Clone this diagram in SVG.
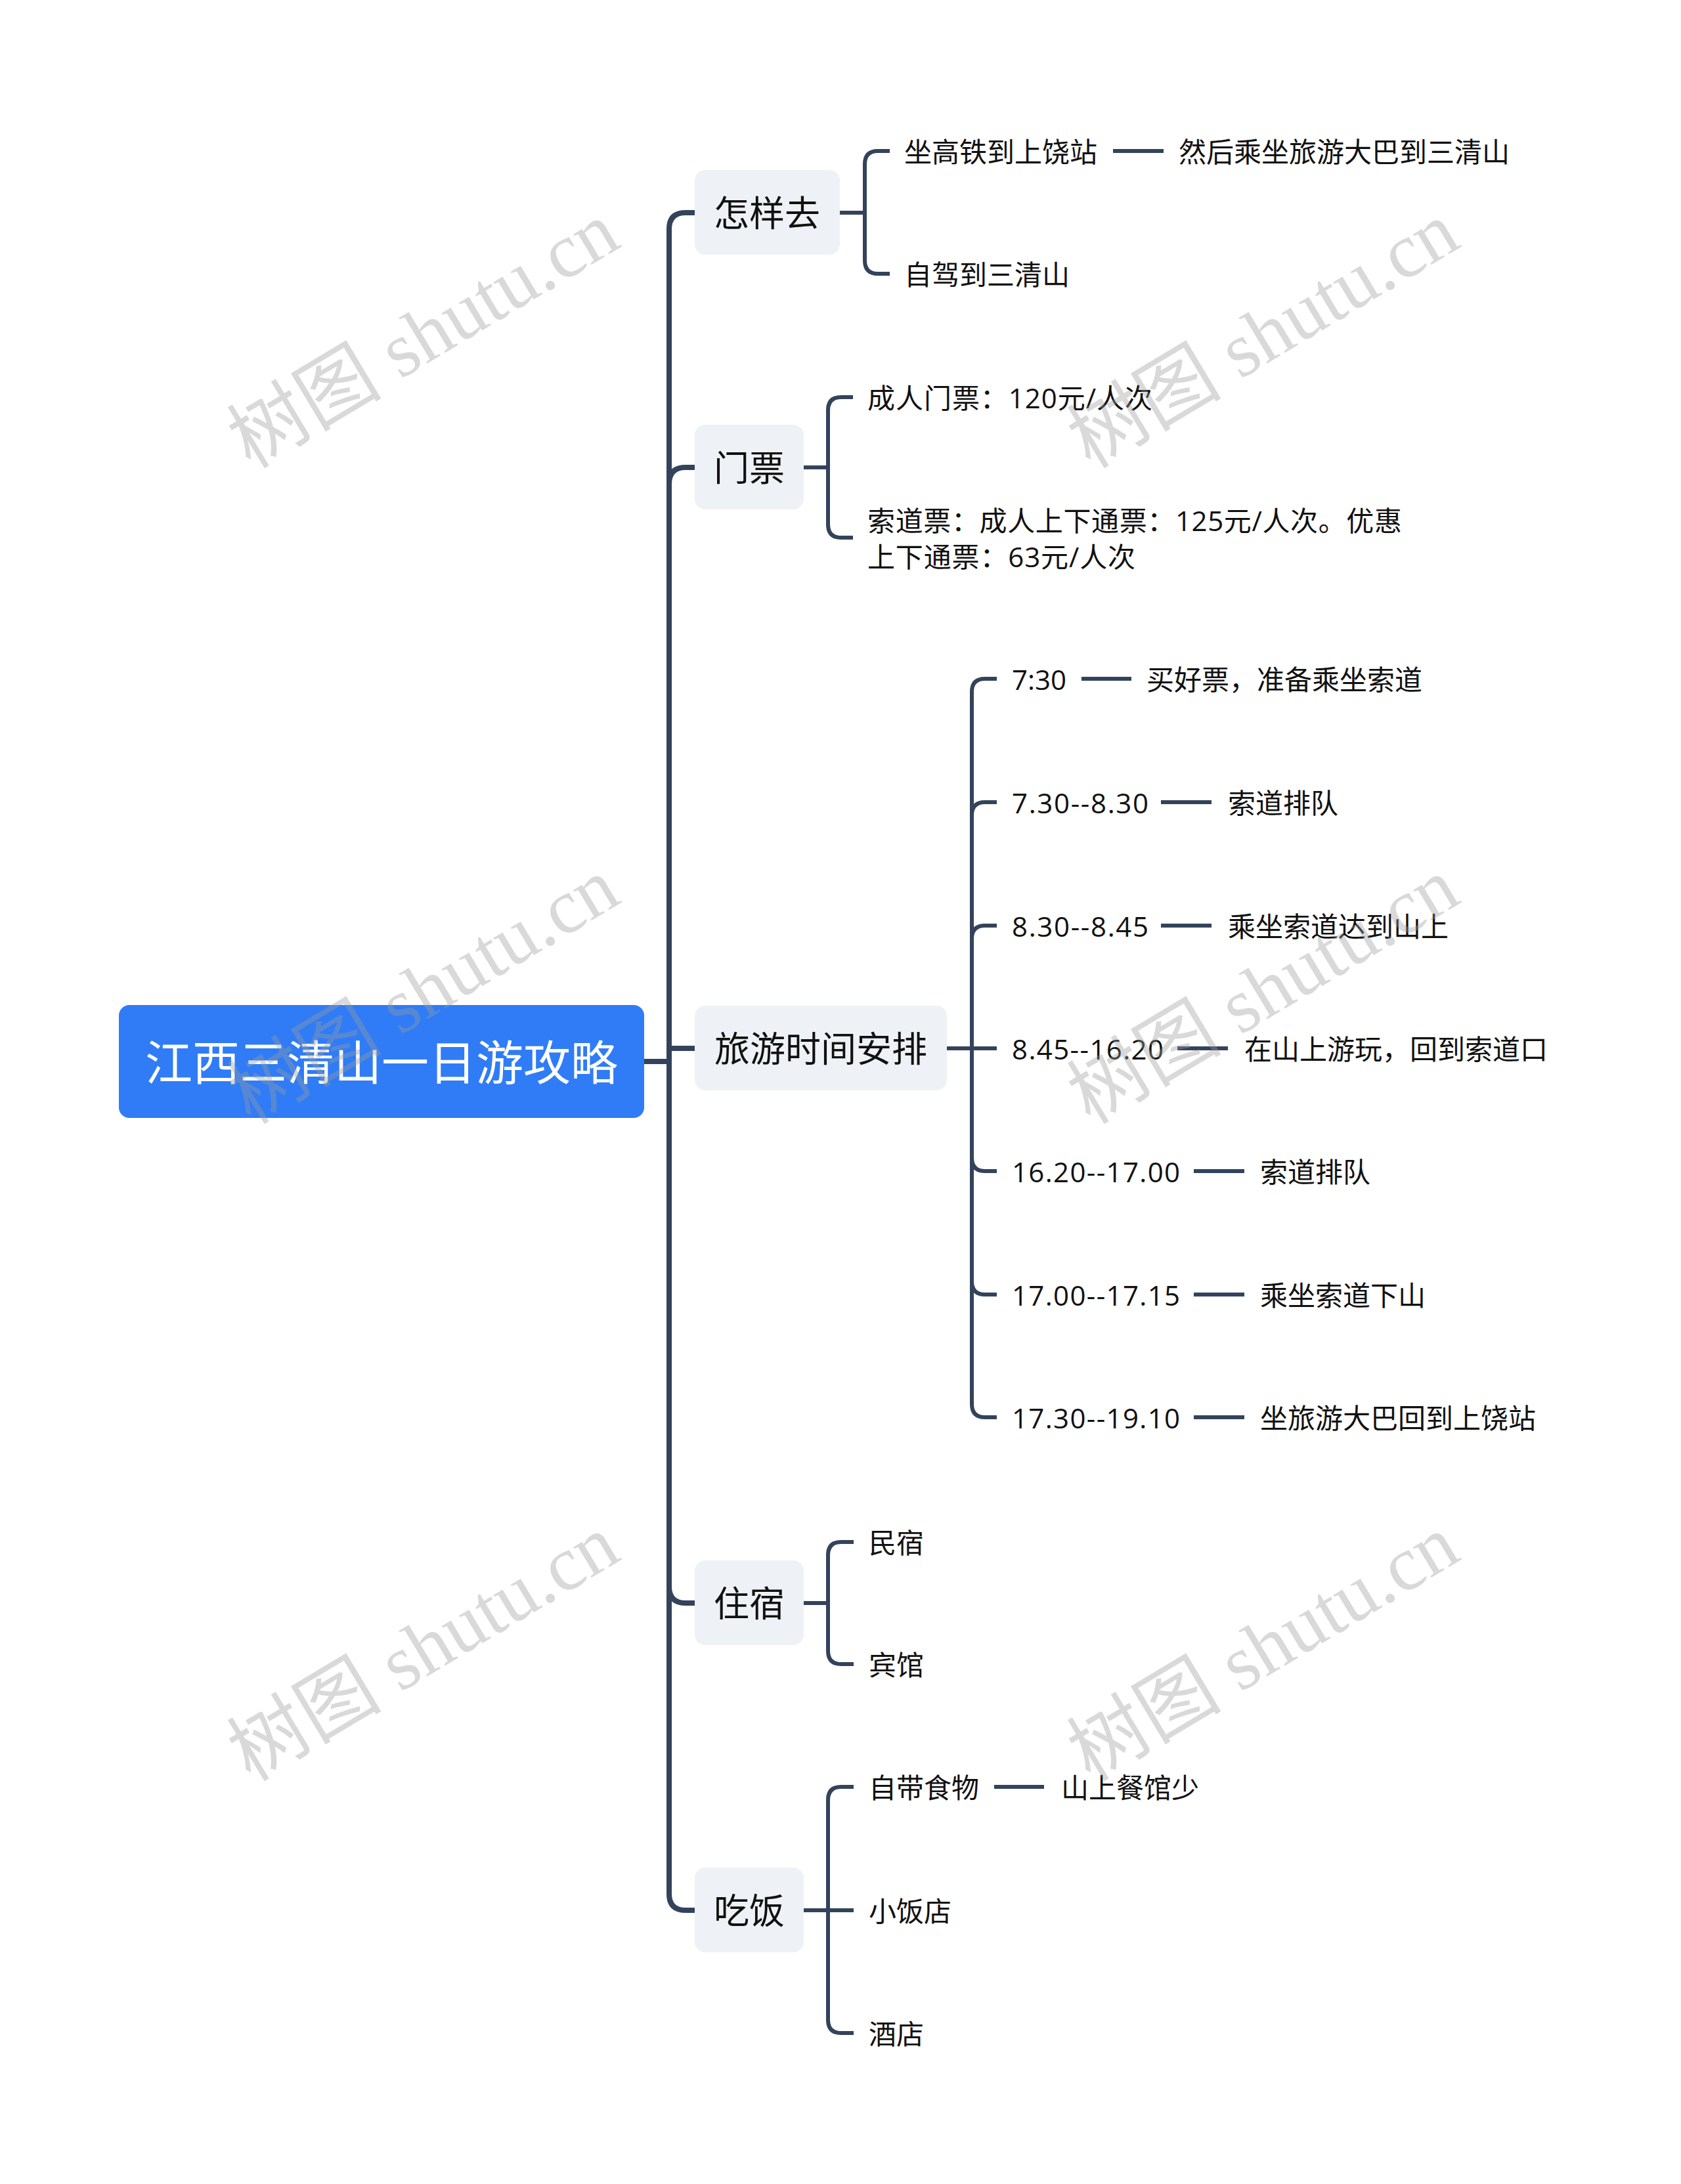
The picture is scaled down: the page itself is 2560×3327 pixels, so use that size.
<svg xmlns="http://www.w3.org/2000/svg" width="2560" height="3327" viewBox="0 0 2560 3327">
<style>
.ln{fill:none;stroke:#33435b;stroke-linecap:butt;stroke-linejoin:round}
.trunk{stroke-width:8}
.br{stroke-width:6}
.root-box{fill:#2f7cf6}
.root-t{fill:#ffffff;font-family:"Open Sans","Noto Sans CJK SC",sans-serif;font-size:72px;text-anchor:middle;dominant-baseline:central}
.node-box{fill:#eef1f5}
.node-t{fill:#111111;font-family:"Open Sans","Noto Sans CJK SC",sans-serif;font-size:54px;text-anchor:middle;dominant-baseline:central}
.leaf{fill:#111111;font-family:"Open Sans","Noto Sans CJK SC",sans-serif;font-size:42px;dominant-baseline:central}
.wm{fill:#9a9a9a;fill-opacity:0.38;font-family:"Liberation Serif","Noto Sans CJK SC",serif;font-size:118px;text-anchor:middle;dominant-baseline:central}
</style>
<rect width="2560" height="3327" fill="#ffffff"/>

<g id="connectors">
  <path class="ln trunk" d="M981,1617 H1019"/>
  <path class="ln trunk" d="M1058,324 H1044 Q1019,324 1019,349 V2885 Q1019,2910 1044,2910 H1058"/>
  <path class="ln trunk" d="M1019,737 Q1019,712 1044,712 H1058"/>
  <path class="ln trunk" d="M1019,1597 H1058"/>
  <path class="ln trunk" d="M1019,2417 Q1019,2442 1044,2442 H1058"/>

  <path class="ln br" d="M1279,324 H1317"/>
  <path class="ln br" d="M1355,230 H1337 Q1317,230 1317,250 V397 Q1317,417 1337,417 H1355"/>
  <path class="ln br" d="M1695,230 H1772"/>

  <path class="ln br" d="M1224,712 H1261"/>
  <path class="ln br" d="M1299,605 H1281 Q1261,605 1261,625 V799 Q1261,819 1281,819 H1299"/>

  <path class="ln br" d="M1442,1597 H1518"/>
  <path class="ln br" d="M1518,1034 H1500 Q1480,1034 1480,1054 V2139 Q1480,2159 1500,2159 H1518"/>
  <path class="ln br" d="M1480,1242 Q1480,1222 1500,1222 H1518"/>
  <path class="ln br" d="M1480,1430 Q1480,1410 1500,1410 H1518"/>
  <path class="ln br" d="M1480,1764 Q1480,1784 1500,1784 H1518"/>
  <path class="ln br" d="M1480,1952 Q1480,1972 1500,1972 H1518"/>
  <path class="ln br" d="M1647,1034 H1723"/>
  <path class="ln br" d="M1768,1222 H1845"/>
  <path class="ln br" d="M1768,1410 H1845"/>
  <path class="ln br" d="M1793,1597 H1870"/>
  <path class="ln br" d="M1818,1784 H1895"/>
  <path class="ln br" d="M1818,1972 H1895"/>
  <path class="ln br" d="M1818,2159 H1895"/>

  <path class="ln br" d="M1224,2442 H1261"/>
  <path class="ln br" d="M1300,2349 H1281 Q1261,2349 1261,2369 V2515 Q1261,2535 1281,2535 H1300"/>

  <path class="ln br" d="M1224,2910 H1300"/>
  <path class="ln br" d="M1300,2722 H1281 Q1261,2722 1261,2742 V3077 Q1261,3097 1281,3097 H1300"/>
  <path class="ln br" d="M1514,2722 H1590"/>
</g>

<g id="root">
  <rect class="root-box" x="181" y="1531" width="800" height="172" rx="16"/>
  <text class="root-t" x="581" y="1617">江西三清山一日游攻略</text>
</g>

<g id="n-zenyangqu">
  <rect class="node-box" x="1058" y="259" width="221" height="129" rx="16"/>
  <text class="node-t" x="1168" y="324">怎样去</text>
</g>
<g id="n-menpiao">
  <rect class="node-box" x="1058" y="647" width="166" height="129" rx="16"/>
  <text class="node-t" x="1141" y="712">门票</text>
</g>
<g id="n-shijian">
  <rect class="node-box" x="1058" y="1532" width="384" height="129" rx="16"/>
  <text class="node-t" x="1250" y="1597">旅游时间安排</text>
</g>
<g id="n-zhusu">
  <rect class="node-box" x="1058" y="2377" width="166" height="129" rx="16"/>
  <text class="node-t" x="1141" y="2442">住宿</text>
</g>
<g id="n-chifan">
  <rect class="node-box" x="1058" y="2845" width="166" height="129" rx="16"/>
  <text class="node-t" x="1141" y="2910">吃饭</text>
</g>

<g id="leaf-gaotie"><text class="leaf" x="1377" y="230">坐高铁到上饶站</text></g>
<g id="leaf-daba"><text class="leaf" x="1795" y="230">然后乘坐旅游大巴到三清山</text></g>
<g id="leaf-zijia"><text class="leaf" x="1377" y="417">自驾到三清山</text></g>

<g id="leaf-chengren"><text class="leaf" x="1321" y="605" textLength="434" lengthAdjust="spacing">成人门票：120元/人次</text></g>
<g id="leaf-suodao"><text class="leaf" x="1321" y="792" textLength="814" lengthAdjust="spacing">索道票：成人上下通票：125元/人次。优惠</text><text class="leaf" x="1321" y="847" textLength="408" lengthAdjust="spacing">上下通票：63元/人次</text></g>

<g id="leaf-t1"><text class="leaf" x="1541" y="1034">7:30</text></g>
<g id="leaf-t1d"><text class="leaf" x="1746" y="1034">买好票，准备乘坐索道</text></g>
<g id="leaf-t2"><text class="leaf" x="1541" y="1222" textLength="208" lengthAdjust="spacing">7.30--8.30</text></g>
<g id="leaf-t2d"><text class="leaf" x="1870" y="1222">索道排队</text></g>
<g id="leaf-t3"><text class="leaf" x="1541" y="1410" textLength="208" lengthAdjust="spacing">8.30--8.45</text></g>
<g id="leaf-t3d"><text class="leaf" x="1870" y="1410">乘坐索道达到山上</text></g>
<g id="leaf-t4"><text class="leaf" x="1541" y="1597" textLength="231" lengthAdjust="spacing">8.45--16.20</text></g>
<g id="leaf-t4d"><text class="leaf" x="1895" y="1597">在山上游玩，回到索道口</text></g>
<g id="leaf-t5"><text class="leaf" x="1541" y="1784" textLength="256" lengthAdjust="spacing">16.20--17.00</text></g>
<g id="leaf-t5d"><text class="leaf" x="1919" y="1784">索道排队</text></g>
<g id="leaf-t6"><text class="leaf" x="1541" y="1972" textLength="256" lengthAdjust="spacing">17.00--17.15</text></g>
<g id="leaf-t6d"><text class="leaf" x="1919" y="1972">乘坐索道下山</text></g>
<g id="leaf-t7"><text class="leaf" x="1541" y="2159" textLength="256" lengthAdjust="spacing">17.30--19.10</text></g>
<g id="leaf-t7d"><text class="leaf" x="1919" y="2159">坐旅游大巴回到上饶站</text></g>

<g id="leaf-minsu"><text class="leaf" x="1323" y="2349">民宿</text></g>
<g id="leaf-binguan"><text class="leaf" x="1323" y="2535">宾馆</text></g>
<g id="leaf-zidai"><text class="leaf" x="1323" y="2722">自带食物</text></g>
<g id="leaf-canguan"><text class="leaf" x="1616" y="2722">山上餐馆少</text></g>
<g id="leaf-xiaofandian"><text class="leaf" x="1323" y="2910">小饭店</text></g>
<g id="leaf-jiudian"><text class="leaf" x="1323" y="3097">酒店</text></g>

<g id="watermarks">
  <text class="wm" transform="translate(645,511) rotate(-31)">树图 shutu.cn</text>
  <text class="wm" transform="translate(1924,511) rotate(-31)">树图 shutu.cn</text>
  <text class="wm" transform="translate(645,1510) rotate(-31)">树图 shutu.cn</text>
  <text class="wm" transform="translate(1924,1510) rotate(-31)">树图 shutu.cn</text>
  <text class="wm" transform="translate(645,2511) rotate(-31)">树图 shutu.cn</text>
  <text class="wm" transform="translate(1924,2511) rotate(-31)">树图 shutu.cn</text>
</g>
</svg>
